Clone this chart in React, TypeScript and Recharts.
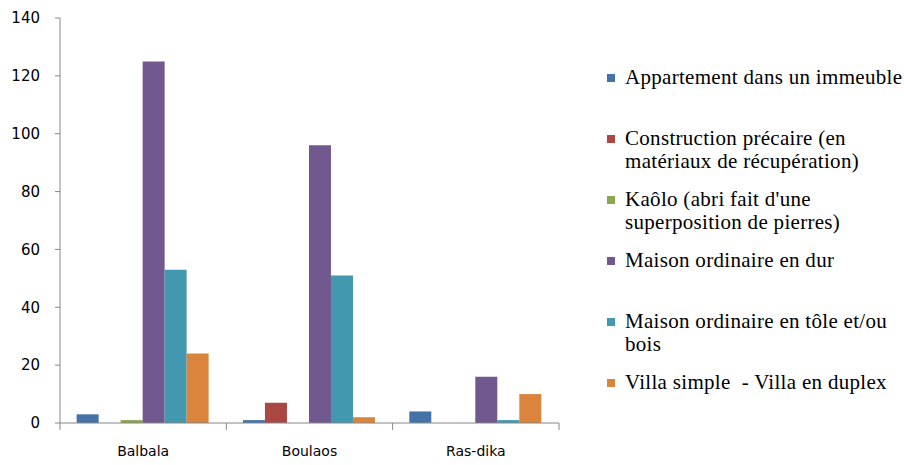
import { Bar, BarChart, XAxis, YAxis } from "recharts"

const districts = ["Balbala", "Boulaos", "Ras-dika"]
const appartement = [3, 1, 4]
const precaire = [0, 7, 0]
const kaolo = [1, 0, 0]
const maisonDur = [125, 96, 16]
const maisonTole = [53, 51, 1]
const villa = [24, 2, 10]
const yTicks = [0, 20, 40, 60, 80, 100, 120, 140]

const series = [
  { key: "appartement", values: appartement, color: "#4572A7", label: ["Appartement dans un immeuble"] },
  { key: "precaire", values: precaire, color: "#AA4643", label: ["Construction précaire (en", "matériaux de récupération)"] },
  { key: "kaolo", values: kaolo, color: "#89A54E", label: ["Kaôlo (abri fait d'une", "superposition de pierres)"] },
  { key: "maisonDur", values: maisonDur, color: "#71588F", label: ["Maison ordinaire en dur"] },
  { key: "maisonTole", values: maisonTole, color: "#4198AF", label: ["Maison ordinaire en tôle et/ou", "bois"] },
  { key: "villa", values: villa, color: "#DB843D", label: ["Villa simple  - Villa en duplex"] },
]

const data = districts.map((name, i) => {
  const row: Record<string, string | number> = { name }
  series.forEach((s) => (row[s.key] = s.values[i]))
  return row
})

const axisColor = "#868686"

function DistrictTick(props: any) {
  const { x, y, payload, index } = props
  const half = payload.offset ?? 83
  return (
    <g>
      <line x1={x - half} x2={x - half} y1={y} y2={y + 7} stroke={axisColor} />
      {index === districts.length - 1 && (
        <line x1={x + half} x2={x + half} y1={y} y2={y + 7} stroke={axisColor} />
      )}
      <text x={x} y={y + 33} textAnchor="middle" fontSize={14} fill="#000" fontFamily="'DejaVu Sans', sans-serif">
        {payload.value}
      </text>
    </g>
  )
}

export default function App() {
  return (
    <div style={{ position: "relative", width: 904, height: 465, background: "#fff" }}>
      <style>{`body{margin:0}`}</style>
      <BarChart
        width={904}
        height={465}
        data={data}
        margin={{ top: 18, right: 345, left: 0, bottom: 0 }}
        barCategoryGap="10%"
        barGap={0}
      >
        <XAxis
          dataKey="name"
          height={42}
          stroke={axisColor}
          tickLine={false}
          tickSize={0}
          tickMargin={0}
          tick={<DistrictTick />}
          interval={0}
        />
        <YAxis
          width={60}
          domain={[0, 140]}
          ticks={yTicks}
          stroke={axisColor}
          tickSize={5}
          tickMargin={15}
          tick={{ fill: "#000", fontSize: 15, fontFamily: "'DejaVu Sans', sans-serif" }}
          interval={0}
        />
        {series.map((s) => (
          <Bar key={s.key} dataKey={s.key} fill={s.color} isAnimationActive={false} />
        ))}
      </BarChart>
      <div style={{ position: "absolute", left: 605, top: 66, fontFamily: "'Liberation Serif', serif", fontSize: 21, lineHeight: "23px", letterSpacing: 0.3, color: "#000" }}>
        {series.map((s) => (
          <div key={s.key} style={{ position: "relative", height: 61, paddingLeft: 20 }}>
            <span style={{ position: "absolute", left: 2, top: 8, width: 8, height: 8, background: s.color }} />
            {s.label.map((line) => (
              <div key={line} style={{ whiteSpace: "pre" }}>{line}</div>
            ))}
          </div>
        ))}
      </div>
    </div>
  )
}
